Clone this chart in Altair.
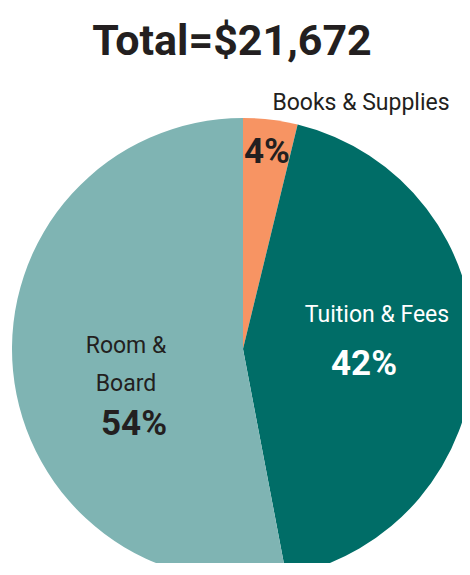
import altair as alt
import pandas as pd

categories = ["Books & Supplies", "Tuition & Fees", "Room & Board"]
shares = [3.8, 43.2, 53.0]
order = [0, 1, 2]
colors = ["#F79463", "#006D67", "#7FB4B3"]

label_lines = ["Books & Supplies", "4%", "Tuition & Fees", "42%", "Room &", "Board", "54%"]
label_x = [353, 259, 369, 356, 118, 118, 126]
label_y = [102, 155, 314, 367, 345, 383, 427]
label_color = ["#231F20", "#231F20", "#FFFFFF", "#FFFFFF", "#231F20", "#231F20", "#231F20"]
label_bold = [False, True, False, True, False, False, True]

title_text = "Total=$21,672"

pie_df = pd.DataFrame({"category": categories, "share": shares, "order": order})

FONT = "Roboto"

pie = alt.Chart(pie_df).mark_arc(radius=231, stroke=None).encode(
    theta=alt.Theta("share:Q", stack=True),
    order=alt.Order("order:Q"),
    color=alt.Color("category:N", scale=alt.Scale(domain=categories, range=colors), legend=None),
    x=alt.value(235),
    y=alt.value(341),
)

layers = [pie]
for t, xx, yy, c, b in zip(label_lines, label_x, label_y, label_color, label_bold):
    d = pd.DataFrame({"t": [t]})
    layers.append(
        alt.Chart(d).mark_text(
            font=FONT,
            fontSize=35 if b else 23,
            fontWeight="bold" if b else "normal",
            align="center",
            baseline="alphabetic",
            color=c,
        ).encode(text="t:N", x=alt.value(xx), y=alt.value(yy))
    )

layers.append(
    alt.Chart(pd.DataFrame({"t": [title_text]})).mark_text(
        font=FONT, fontSize=43, fontWeight="bold", align="center",
        baseline="alphabetic", color="#231F20",
    ).encode(text="t:N", x=alt.value(224), y=alt.value(47))
)

chart = alt.layer(*layers).properties(
    width=454, height=555,
    autosize=alt.AutoSizeParams(type="none"),
    padding=0,
).configure_view(stroke=None)

chart.save("out.html", embed_options={"renderer": "svg", "actions": False})
